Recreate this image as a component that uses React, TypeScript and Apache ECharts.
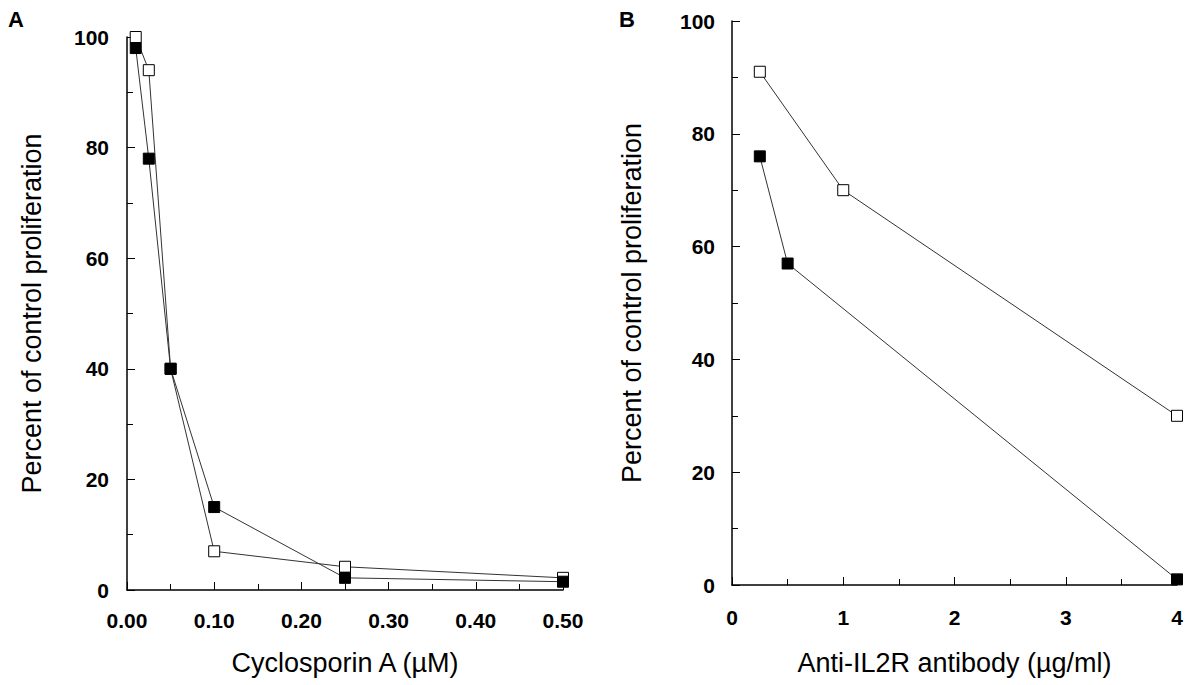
import React, { useEffect, useRef } from "react";
import * as echarts from "echarts";

// Panel A: Cyclosporin A (µM)
const csaOpen: [number, number][] = [
  [0.01, 100],
  [0.025, 94],
  [0.05, 40],
  [0.1, 7],
  [0.25, 4.2],
  [0.5, 2.2],
];
const csaFilled: [number, number][] = [
  [0.01, 98],
  [0.025, 78],
  [0.05, 40],
  [0.1, 15],
  [0.25, 2.2],
  [0.5, 1.5],
];

// Panel B: Anti-IL2R antibody (µg/ml)
const il2rOpen: [number, number][] = [
  [0.25, 91],
  [1, 70],
  [4, 30],
];
const il2rFilled: [number, number][] = [
  [0.25, 76],
  [0.5, 57],
  [4, 1],
];

const yTitle = "Percent of control proliferation";
const xTitleA = "Cyclosporin A (µM)";
const xTitleB = "Anti-IL2R antibody (µg/ml)";

const FONT = "'Liberation Sans', Arial, Helvetica, sans-serif";

export default function App() {
  const ref = useRef<HTMLDivElement>(null);

  useEffect(() => {
    if (!ref.current) return;
    const chart = echarts.init(ref.current, null, { renderer: "svg" });

    const axisLine = { show: true, lineStyle: { color: "#000", width: 1.5 } };
    const axisTick = { show: true, inside: true, length: 8, lineStyle: { color: "#000", width: 1 } };
    const minorTick = { show: true, splitNumber: 2, length: 6, lineStyle: { color: "#000", width: 1 } };
    const labelStyle = { color: "#000", fontSize: 21, fontWeight: "bold", fontFamily: FONT };
    const nameStyle = { color: "#000", fontSize: 27, fontFamily: FONT };

    const openSeries = (data: [number, number][], idx: number) => ({
      type: "line",
      xAxisIndex: idx,
      yAxisIndex: idx,
      data,
      symbol: "rect",
      symbolSize: 11,
      lineStyle: { color: "#333", width: 1 },
      itemStyle: { color: "#fff", borderColor: "#000", borderWidth: 1 },
      z: 3,
    });
    const filledSeries = (data: [number, number][], idx: number) => ({
      type: "line",
      xAxisIndex: idx,
      yAxisIndex: idx,
      data,
      symbol: "rect",
      symbolSize: 11,
      lineStyle: { color: "#333", width: 1 },
      itemStyle: { color: "#000", borderColor: "#000", borderWidth: 1 },
      z: 4,
    });

    chart.setOption({
      animation: false,
      backgroundColor: "#fff",
      grid: [
        { left: 127, top: 37, width: 436, height: 553 },
        { left: 732, top: 21, width: 445, height: 564 },
      ],
      xAxis: [
        {
          type: "value",
          gridIndex: 0,
          min: 0,
          max: 0.5,
          interval: 0.1,
          axisLine,
          axisTick,
          minorTick,
          splitLine: { show: false },
          axisLabel: { ...labelStyle, margin: 20, formatter: (v: number) => v.toFixed(2) },
          name: xTitleA,
          nameLocation: "middle",
          nameGap: 59,
          nameTextStyle: nameStyle,
        },
        {
          type: "value",
          gridIndex: 1,
          min: 0,
          max: 4,
          interval: 1,
          axisLine,
          axisTick,
          minorTick,
          splitLine: { show: false },
          axisLabel: { ...labelStyle, margin: 22 },
          name: xTitleB,
          nameLocation: "middle",
          nameGap: 64,
          nameTextStyle: nameStyle,
        },
      ],
      yAxis: [
        {
          type: "value",
          gridIndex: 0,
          min: 0,
          max: 100,
          interval: 20,
          axisLine,
          axisTick,
          minorTick,
          splitLine: { show: false },
          axisLabel: { ...labelStyle, margin: 18 },
          name: yTitle,
          nameLocation: "middle",
          nameGap: 82,
          nameRotate: 90,
          nameTextStyle: nameStyle,
        },
        {
          type: "value",
          gridIndex: 1,
          min: 0,
          max: 100,
          interval: 20,
          axisLine,
          axisTick,
          minorTick,
          splitLine: { show: false },
          axisLabel: { ...labelStyle, margin: 17 },
          name: yTitle,
          nameLocation: "middle",
          nameGap: 87,
          nameRotate: 90,
          nameTextStyle: nameStyle,
        },
      ],
      graphic: [
        {
          type: "text",
          left: 8,
          top: 8,
          style: { text: "A", fontSize: 22, fontWeight: "bold", fontFamily: FONT, fill: "#000" },
        },
        {
          type: "text",
          left: 619,
          top: 8,
          style: { text: "B", fontSize: 22, fontWeight: "bold", fontFamily: FONT, fill: "#000" },
        },
      ],
      series: [
        openSeries(csaOpen, 0),
        filledSeries(csaFilled, 0),
        openSeries(il2rOpen, 1),
        filledSeries(il2rFilled, 1),
      ],
    });

    return () => chart.dispose();
  }, []);

  return (
    <div
      ref={ref}
      style={{ position: "fixed", left: 0, top: 0, width: 1191, height: 685, background: "#fff" }}
    />
  );
}
